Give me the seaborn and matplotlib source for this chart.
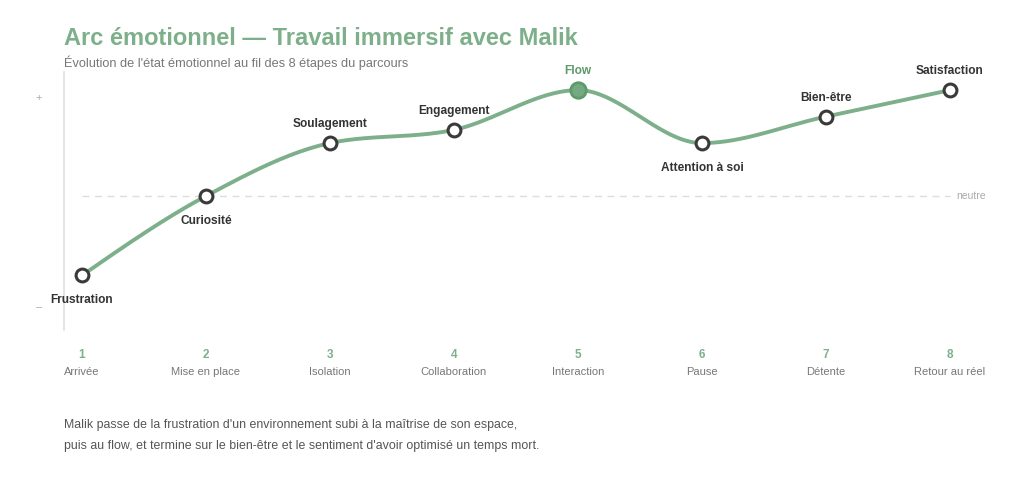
import numpy as np
import pandas as pd
import matplotlib.pyplot as plt
import seaborn as sns

# données
etapes = [1, 2, 3, 4, 5, 6, 7, 8]
noms_etapes = ['Arrivée', 'Mise en place', 'Isolation', 'Collaboration',
               'Interaction', 'Pause', 'Détente', 'Retour au réel']
emotions = ['Frustration', 'Curiosité', 'Soulagement', 'Engagement',
            'Flow', 'Attention à soi', 'Bien-être', 'Satisfaction']
valeurs = [-3, 0, 2, 2.5, 4, 2, 3, 4]
label_dessous = [True, True, False, False, False, True, False, False]
pic = 'Flow'

VERT = '#7db08a'
VERT_FONCE = '#5e9a6c'
GRIS_TXT = '#777777'
SOMBRE = '#333333'


def monotone_curve(x, y, n=40):
    """courbe monotone (style d3.curveMonotoneX) passant par les points"""
    x = np.asarray(x, float)
    y = np.asarray(y, float)
    h = np.diff(x)
    s = np.diff(y) / h
    t = np.zeros_like(y)
    for i in range(1, len(x) - 1):
        p = (s[i - 1] * h[i] + s[i] * h[i - 1]) / (h[i - 1] + h[i])
        t[i] = (np.sign(s[i - 1]) + np.sign(s[i])) * min(abs(s[i - 1]), abs(s[i]), 0.5 * abs(p))
    t[0] = (3 * s[0] - t[1]) / 2
    t[-1] = (3 * s[-1] - t[-2]) / 2
    xs, ys = [], []
    for i in range(len(x) - 1):
        u = np.linspace(0, 1, n, endpoint=False)
        h00 = 2 * u**3 - 3 * u**2 + 1
        h10 = u**3 - 2 * u**2 + u
        h01 = -2 * u**3 + 3 * u**2
        h11 = u**3 - u**2
        xs.append(x[i] + u * h[i])
        ys.append(h00 * y[i] + h10 * h[i] * t[i] + h01 * y[i + 1] + h11 * h[i] * t[i + 1])
    xs.append([x[-1]])
    ys.append([y[-1]])
    return np.concatenate(xs), np.concatenate(ys)


sns.set_theme(style='white')
plt.rcParams['font.family'] = ['Liberation Sans', 'DejaVu Sans']

fig = plt.figure(figsize=(10.24, 4.94), dpi=100)
ax = fig.add_axes([0.0625, 0.332, 0.8828, 0.522])

df = pd.DataFrame({'etape': etapes, 'valeur': valeurs, 'emotion': emotions})
cx, cy = monotone_curve(etapes, valeurs)
courbe = pd.DataFrame({'x': cx, 'y': cy})

# ligne neutre
ax.plot([etapes[0], etapes[-1]], [0, 0], color='#dddddd', lw=1, ls=(0, (5, 4)), zorder=1)
ax.annotate('neutre', (etapes[-1], 0), xytext=(4.5, 0), textcoords='offset points',
            ha='left', va='center', fontsize=7.5, color='#aaaaaa')

sns.lineplot(data=courbe, x='x', y='y', ax=ax, color=VERT, lw=2.8, sort=False, zorder=2)

autres = df[df['emotion'] != pic]
sns.scatterplot(data=autres, x='etape', y='valeur', ax=ax, s=85, color='white',
                edgecolor='#3a3a3a', linewidth=2.2, zorder=3)
sns.scatterplot(data=df[df['emotion'] == pic], x='etape', y='valeur', ax=ax, s=125,
                color='#74a981', edgecolor=VERT_FONCE, linewidth=2, zorder=3)

for e, v, nom, dessous in zip(etapes, valeurs, emotions, label_dessous):
    dy = -18 if dessous else 13.5
    couleur = VERT_FONCE if nom == pic else SOMBRE
    ax.annotate(nom, (e, v), xytext=(0, dy), textcoords='offset points',
                ha='center', va='center', fontsize=8.6, fontweight='bold', color=couleur)

# axe des étapes
for e, nom in zip(etapes, noms_etapes):
    ax.annotate(str(e), (e, 0), xycoords=ax.get_xaxis_transform(), xytext=(0, -18),
                textcoords='offset points', ha='center', va='center',
                fontsize=8.5, color=VERT, fontweight='bold')
    ax.annotate(nom, (e, 0), xycoords=ax.get_xaxis_transform(), xytext=(0, -30),
                textcoords='offset points', ha='center', va='center',
                fontsize=8, color=GRIS_TXT)

ax.text(-0.028, 0.9, '+', transform=ax.transAxes, ha='center', va='center',
        fontsize=8, color='#aaaaaa')
ax.text(-0.028, 0.09, '–', transform=ax.transAxes, ha='center', va='center',
        fontsize=8, color='#aaaaaa')

ax.set_xlim(1 - 18 / 124, 8 + 18 / 124)
ax.set_ylim(-5.06, 4.68)
ax.set_xticks([])
ax.set_yticks([])
ax.set_xlabel('')
ax.set_ylabel('')
for side in ['top', 'right', 'bottom']:
    ax.spines[side].set_visible(False)
ax.spines['left'].set_color('#e0e0e0')
ax.spines['left'].set_linewidth(1.2)

fig.text(0.0625, 0.922, 'Arc émotionnel — Travail immersif avec Malik',
         fontsize=17, fontweight='bold', color=VERT, ha='left', va='center')
fig.text(0.0625, 0.872, "Évolution de l'état émotionnel au fil des 8 étapes du parcours",
         fontsize=9.2, color=GRIS_TXT, ha='left', va='center')
fig.text(0.0625, 0.139, "Malik passe de la frustration d'un environnement subi à la maîtrise de son espace,",
         fontsize=8.9, color='#555555', ha='left', va='center')
fig.text(0.0625, 0.098, "puis au flow, et termine sur le bien-être et le sentiment d'avoir optimisé un temps mort.",
         fontsize=8.9, color='#555555', ha='left', va='center')

fig.savefig('out.png', dpi=100, facecolor='white')
